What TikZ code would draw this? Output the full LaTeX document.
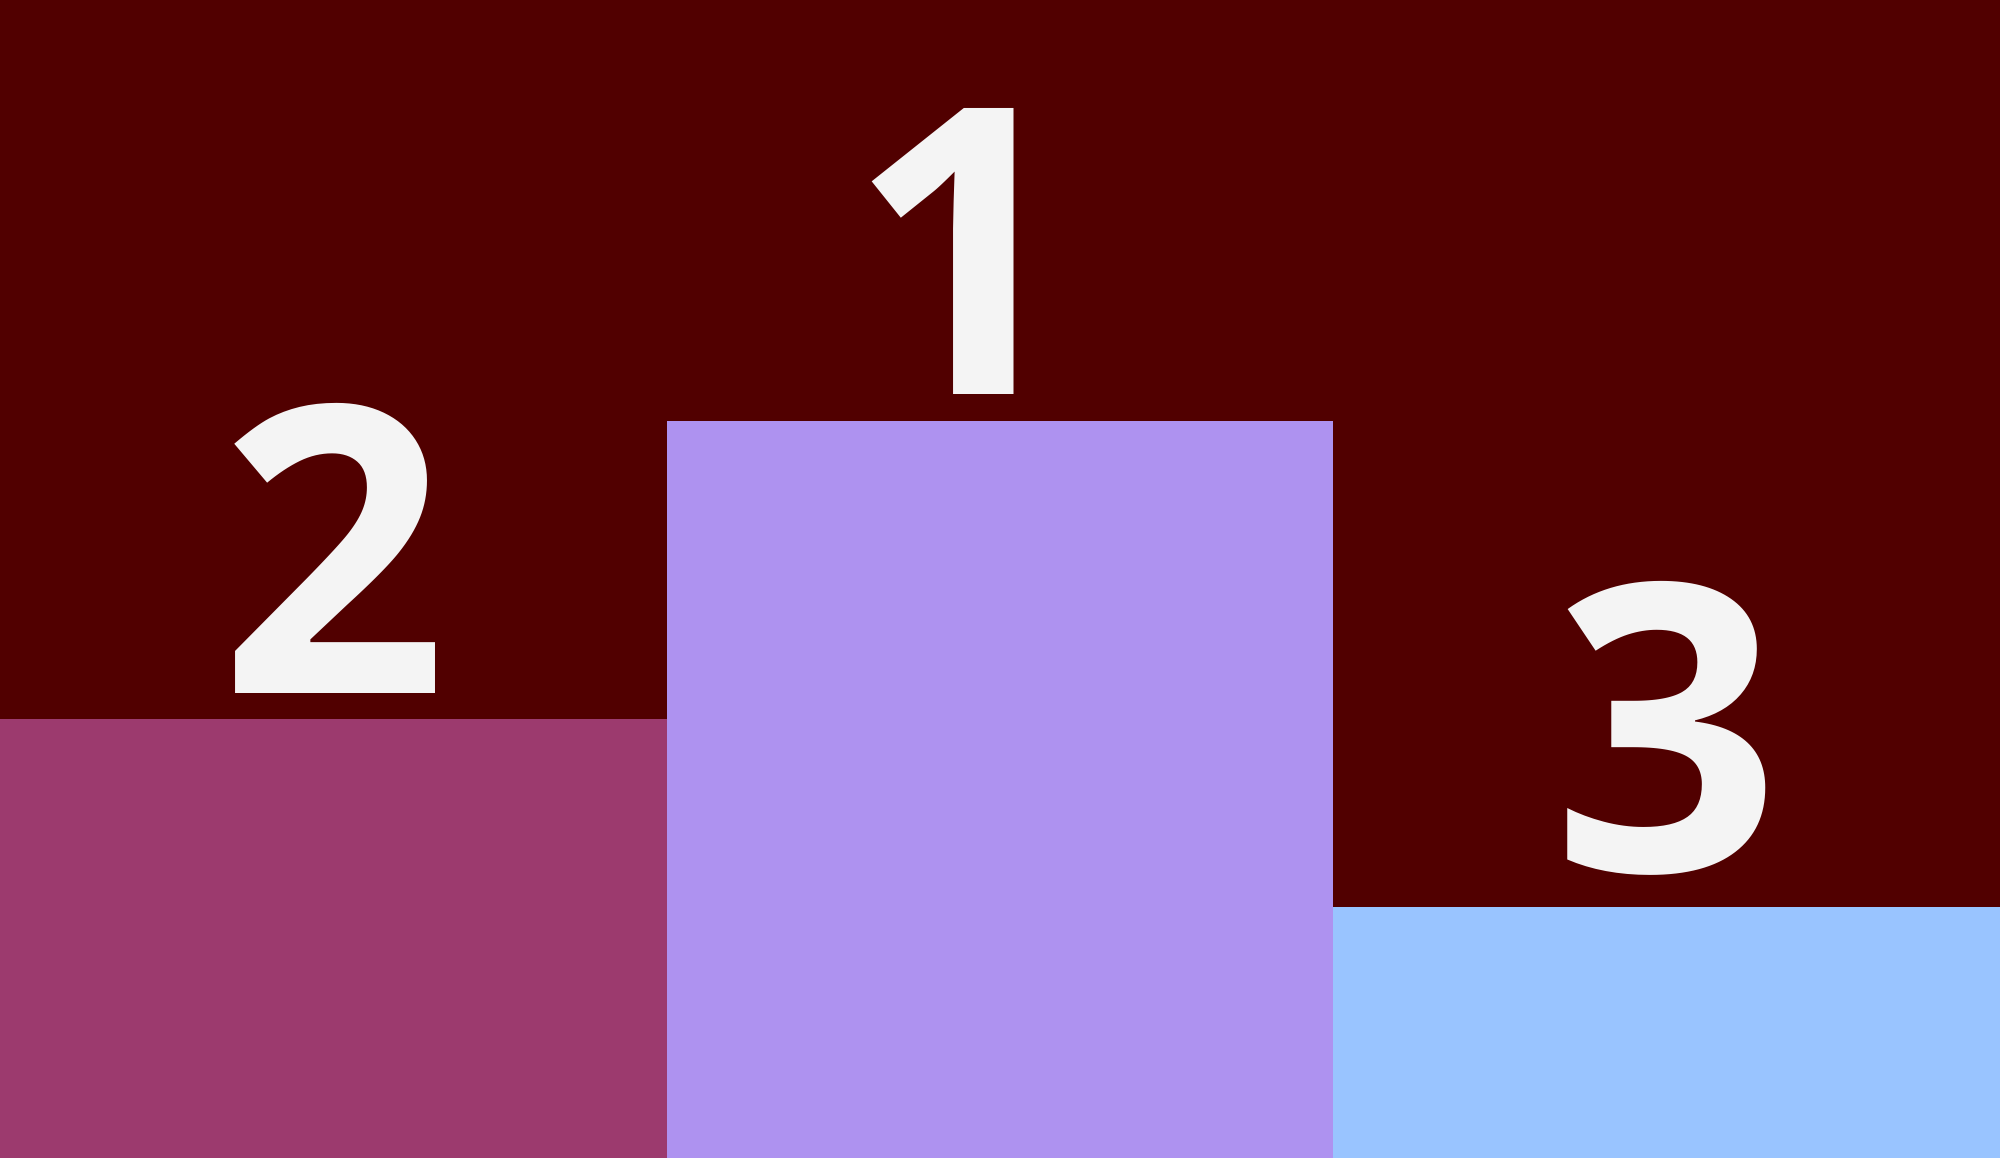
\documentclass[tikz,border=0pt]{standalone}
\usepackage{fontspec}
\setmainfont{Open Sans}[BoldFont={* Bold}]
\definecolor{podiumbg}{HTML}{510000}
\definecolor{secondbox}{HTML}{9C3A6E}
\definecolor{firstbox}{HTML}{AE92F0}
\definecolor{thirdbox}{HTML}{99C4FF}
\definecolor{placetext}{HTML}{F4F4F4}
\tikzset{placenum/.style={anchor=base, inner sep=0pt, text=placetext, font=\fontsize{114}{114}\selectfont\bfseries}}

\begin{document}
\begin{tikzpicture}[scale=1.0]
        \fill[podiumbg] (0,0) rectangle (20,11.58);
        \useasboundingbox (0,0) rectangle (20,11.58);
        \fill[secondbox] (0,0) rectangle (6.67,4.39);
        \fill[firstbox] (6.67,0) rectangle (13.33,7.37);
        \fill[thirdbox] (13.33,0) rectangle (20,2.51);
        \node[placenum] (second) at (3.335,4.64) {2};
        \node[placenum] (first) at (9.63,7.63) {1};
        \node[placenum] (third) at (16.665,2.86) {3};
    \end{tikzpicture}
\end{document}
